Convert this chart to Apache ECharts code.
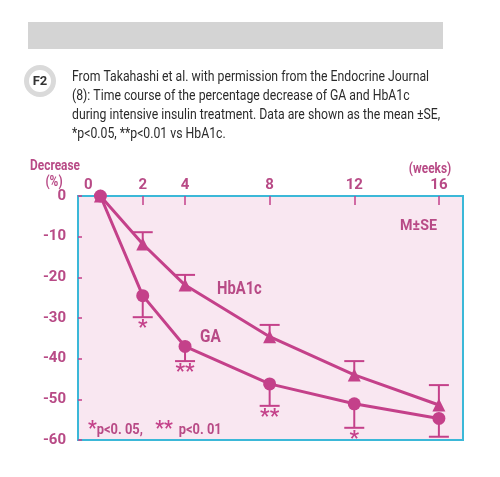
<!DOCTYPE html>
<html>
<head>
<meta charset="utf-8">
<script src="https://cdn.jsdelivr.net/npm/echarts@6/dist/echarts.min.js"></script>
<style>
  html, body { margin: 0; padding: 0; background: #fff; }
  #main { width: 500px; height: 477px; }
</style>
</head>
<body>
<div id="main"></div>
<script>
(function(){
    "use strict";

    // weeks of treatment
    var weeks = [0, 2, 4, 8, 12, 16];
    // GA: mean and lower end of SE bar (%)
    var gaMean = [0, -24.5, -37.0, -46.2, -51.1, -54.7];
    var gaLow = [0, -29.8, -40.6, -51.6, -57.0, -59.2];
    // HbA1c: mean and upper end of SE bar (%)
    var hbMean = [0, -11.8, -21.9, -34.6, -44.0, -51.4];
    var hbHigh = [0, -8.9, -19.4, -31.7, -40.6, -46.5];
    // significance marks under GA
    var gaSig = ['', '*', '**', '**', '*', ''];
    var xTicks = [0, 2, 4, 8, 12, 16];
    var yTicks = [0, -10, -20, -30, -40, -50, -60];

    var PINK = '#c4418a';
    var LABEL = '#b84a86';
    var CYAN = '#3bb8d8';
    var FONT = 'Roboto, "Liberation Sans", sans-serif';

    function pairs(xs, ys){
        var out = [];
        for(var i = 0; i < xs.length; i++){
            out.push([xs[i], ys[i]]);
        }
        return out;
    }

    function errData(mean, end, sig){
        var out = [];
        for(var i = 0; i < weeks.length; i++){
            out.push([weeks[i], mean[i], end[i], sig ? sig[i] : '']);
        }
        return out;
    }

    // one-sided SE bar with cap; stars drawn under GA caps
    function renderErr(params, api){
        var x = api.value(0);
        var m = api.value(1);
        var e = api.value(2);
        if(m === e){
            return null;
        }
        var p1 = api.coord([x, m]);
        var p2 = api.coord([x, e]);
        var half = 10;
        var style = { stroke: PINK, lineWidth: 2 };
        var kids = [
            { type: 'line', shape: { x1: p1[0], y1: p1[1], x2: p2[0], y2: p2[1] }, style: style },
            { type: 'line', shape: { x1: p2[0] - half, y1: p2[1], x2: p2[0] + half, y2: p2[1] }, style: style }
        ];
        var sig = api.value(3);
        if(sig){
            kids.push({
                type: 'text',
                style: {
                    x: p2[0], y: p2[1] + 1,
                    text: sig,
                    fill: PINK,
                    font: 'bold 21px ' + FONT,
                    align: 'center',
                    verticalAlign: 'top'
                }
            });
        }
        return { type: 'group', children: kids };
    }

    // text squeezed horizontally to look like the condensed face of the original
    function narrow(x, y, text, font, color, sx, align){
        return {
            type: 'text',
            x: x, y: y,
            scaleX: sx,
            style: { x: 0, y: 0, text: text, font: font, fill: color, align: align || 'left', verticalAlign: 'middle' }
        };
    }

    var caption = [
        'From Takahashi et al. with permission from the Endocrine Journal',
        '(8): Time course of the percentage decrease of GA and HbA1c',
        'during intensive insulin treatment. Data are shown as the mean \u00b1SE,',
        '*p<0.05, **p<0.01 vs HbA1c.'
    ];

    var graphics = [
        { type: 'rect', shape: { x: 28, y: 22, width: 415, height: 27 }, style: { fill: '#d4d4d4' } },
        { type: 'circle', shape: { cx: 40, cy: 81, r: 13.5 }, style: { fill: '#fff', stroke: '#dadada', lineWidth: 5 } },
        { type: 'text', style: { x: 40, y: 82, text: 'F2', font: 'bold 13px ' + FONT, fill: '#333', align: 'center', verticalAlign: 'middle' } },
        narrow(55, 166, 'Decrease', 'bold 14px ' + FONT, LABEL, 0.85, 'center'),
        narrow(54, 182, '(%)', 'bold 14px ' + FONT, LABEL, 0.85, 'center'),
        narrow(430, 169, '(weeks)', 'bold 14px ' + FONT, LABEL, 0.85, 'center'),
        narrow(217, 289, 'HbA1c', 'bold 18px ' + FONT, LABEL, 0.82),
        narrow(200, 337, 'GA', 'bold 18px ' + FONT, LABEL, 0.85),
        narrow(400, 226, 'M\u00b1SE', 'bold 15px ' + FONT, LABEL, 0.95),
        {
            type: 'text',
            x: 88, y: 430,
            scaleX: 0.92,
            style: {
                x: 0, y: 0,
                text: '{s|*}{t|p<0. 05,}    {s|**}  {t|p<0. 01}',
                verticalAlign: 'middle',
                rich: {
                    s: { font: 'bold 21px ' + FONT, fill: PINK, verticalAlign: 'top' },
                    t: { font: 'bold 14px ' + FONT, fill: LABEL }
                }
            }
        }
    ];
    for(var i = 0; i < caption.length; i++){
        graphics.push(narrow(72, 77 + i * 19.3, caption[i], '14px ' + FONT, '#2b2b2b', 0.875));
    }

    var chart = echarts.init(document.getElementById('main'), null, { renderer: 'canvas' });
    chart.setOption({
        animation: false,
        backgroundColor: '#fff',
        grid: {
            left: 78, top: 196, width: 385, height: 244,
            show: true,
            backgroundColor: '#f9e7f1',
            borderColor: CYAN,
            borderWidth: 2
        },
        xAxis: {
            type: 'value',
            position: 'top',
            min: -1.06,
            max: 17.14,
            splitLine: { show: false },
            axisLine: { show: false, onZero: false },
            axisTick: {
                show: true,
                inside: true,
                length: 9,
                customValues: xTicks.slice(1),
                lineStyle: { color: PINK, width: 1.5 }
            },
            axisLabel: {
                customValues: xTicks,
                margin: 3,
                color: LABEL,
                fontFamily: FONT,
                fontWeight: 'bold',
                fontSize: 15,
                formatter: function(v){
                    return v === 0 ? '{z|0}' : String(v);
                },
                rich: {
                    z: { padding: [0, 24, 0, 0], color: LABEL, fontWeight: 'bold', fontSize: 15, fontFamily: FONT }
                }
            }
        },
        yAxis: {
            type: 'value',
            min: -60,
            max: 0,
            interval: 10,
            splitLine: { show: false },
            axisLine: { show: false, onZero: false },
            axisTick: { show: true, inside: true, length: 4, lineStyle: { color: PINK, width: 1.5 } },
            axisLabel: {
                margin: 12,
                color: LABEL,
                fontFamily: FONT,
                fontWeight: 'bold',
                fontSize: 15,
                customValues: yTicks
            }
        },
        graphic: graphics,
        series: [
            {
                name: 'HbA1c',
                type: 'line',
                data: pairs(weeks, hbMean),
                symbol: 'triangle',
                symbolSize: 13,
                z: 3,
                lineStyle: { color: PINK, width: 3 },
                itemStyle: { color: PINK }
            },
            {
                name: 'GA',
                type: 'line',
                data: pairs(weeks, gaMean),
                symbol: 'circle',
                symbolSize: 13,
                z: 3,
                lineStyle: { color: PINK, width: 3 },
                itemStyle: { color: PINK }
            },
            {
                type: 'custom',
                renderItem: renderErr,
                data: errData(hbMean, hbHigh),
                encode: { x: 0, y: [1, 2] },
                z: 2
            },
            {
                type: 'custom',
                renderItem: renderErr,
                data: errData(gaMean, gaLow, gaSig),
                encode: { x: 0, y: [1, 2] },
                z: 2
            }
        ]
    });
})();
</script>
</body>
</html>
